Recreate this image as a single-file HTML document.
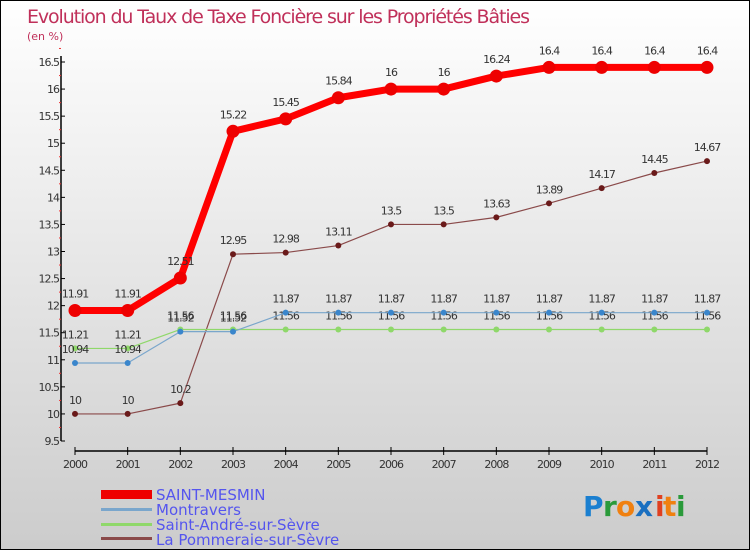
<!DOCTYPE html>
<html><head><meta charset="utf-8"><style>
body{margin:0}
#c{width:750px;height:550px;position:relative;box-sizing:border-box;border:1px solid #000;background:linear-gradient(#fff,#ccc);font-family:"DejaVu Sans","Liberation Sans",sans-serif;overflow:hidden}
svg text{font-family:"DejaVu Sans","Liberation Sans",sans-serif}
</style></head><body>
<div id="c">
<svg id="s" width="750" height="550">
<text x="26" y="22" font-size="19" fill="#c0305a" textLength="503">Evolution du Taux de Taxe Foncière sur les Propriétés Bâties</text>
<text x="26" y="39" font-size="11" fill="#c0305a">(en %)</text>
<g id="axes"></g><g id="series"></g>
<g font-size="15" fill="#5555ee">
<rect x="100" y="489" width="51" height="9" fill="#e00"/>
<text x="155" y="499">SAINT-MESMIN</text>
<rect x="100" y="507" width="51" height="3" fill="#7aa6cc"/>
<text x="155" y="514">Montravers</text>
<rect x="100" y="522" width="51" height="3" fill="#8fd86a"/>
<text x="155" y="529">Saint-André-sur-Sèvre</text>
<rect x="100" y="536" width="51" height="3" fill="#8a4a4a"/>
<text x="155" y="544">La Pommeraie-sur-Sèvre</text>
</g>
<g font-size="28" font-weight="bold">
<text x="582" y="515" fill="#1a7fd0">P</text><text x="602" y="515" fill="#2a9a3a">r</text><text x="615" y="515" fill="#f08010">o</text><text x="634" y="515" fill="#1a6fc0">x</text><text x="654" y="515" fill="#e04020">i</text><text x="662" y="515" fill="#f08010">t</text><text x="675" y="515" fill="#2a9a3a">i</text>
</g>
</svg></div>
<script>
const years=["2000","2001","2002","2003","2004","2005","2006","2007","2008","2009","2010","2011","2012"];
const yTicks=[9.5,10,10.5,11,11.5,12,12.5,13,13.5,14,14.5,15,15.5,16,16.5];
const saintMesmin=[11.91,11.91,12.51,15.22,15.45,15.84,16,16,16.24,16.4,16.4,16.4,16.4];
const montravers=[10.94,10.94,11.52,11.52,11.87,11.87,11.87,11.87,11.87,11.87,11.87,11.87,11.87];
const saintAndre=[11.21,11.21,11.56,11.56,11.56,11.56,11.56,11.56,11.56,11.56,11.56,11.56,11.56];
const pommeraie=[10,10,10.2,12.95,12.98,13.11,13.5,13.5,13.63,13.89,14.17,14.45,14.67];
const NS="http://www.w3.org/2000/svg";
const X=i=>74+i*(706-74)/(years.length-1);
const Y=v=>440-(v-9.5)*(440-61)/7;
function mk(t,a,p){const e=document.createElementNS(NS,t);for(const k in a)e.setAttribute(k,a[k]);p.appendChild(e);return e;}
const ax=document.getElementById('axes'),sg=document.getElementById('series');
let e=mk('line',{x1:60,y1:55,x2:60,y2:440,stroke:'#000','stroke-width':1.5},ax);

e=mk('line',{x1:74,y1:450,x2:706,y2:450,stroke:'#000','stroke-width':1.5},ax);

yTicks.forEach(v=>{mk('line',{x1:60,y1:Y(v),x2:64,y2:Y(v),stroke:'#000'},ax);
mk('line',{x1:58,y1:Y(v+0.25),x2:60,y2:Y(v+0.25),stroke:'#e33'},ax);
const t=mk('text',{x:58,y:Y(v)+4,'font-size':11,fill:'#333','text-anchor':'end','letter-spacing':'-1'},ax);t.textContent=v;
});
years.forEach((y,i)=>{mk('line',{x1:X(i),y1:446,x2:X(i),y2:454,stroke:'#000'},ax);
const t=mk('text',{x:X(i),y:467,'font-size':11,fill:'#333','text-anchor':'middle','letter-spacing':'-1'},ax);t.textContent=y;
});
function series(d,name,col,w,r,dotCol,labOff){
const g=mk('g',{},sg);
const l=mk('polyline',{points:d.map((v,i)=>X(i)+','+Y(v)).join(' '),fill:'none',stroke:col,'stroke-width':w,'stroke-linejoin':'round'},g);

d.forEach((v,i)=>{const c=mk('circle',{cx:X(i),cy:Y(v),r:r,fill:dotCol},g);

const t=mk('text',{x:X(i),y:Y(v)+labOff,'font-size':11,fill:'#333','text-anchor':'middle','letter-spacing':'-1'},g);t.textContent=v;
});}
series(pommeraie,'la-pommeraie','#8a4a4a',1.2,3,'#6a1a1a',-10);
series(saintAndre,'saint-andre','#8fd86a',1.2,3,'#8fd86a',-10);
series(montravers,'montravers','#7aa6cc',1.2,3,'#3a86cc',-10);
series(saintMesmin,'saint-mesmin','#f00',7,6.5,'#e00',-13);
</script></body></html>
